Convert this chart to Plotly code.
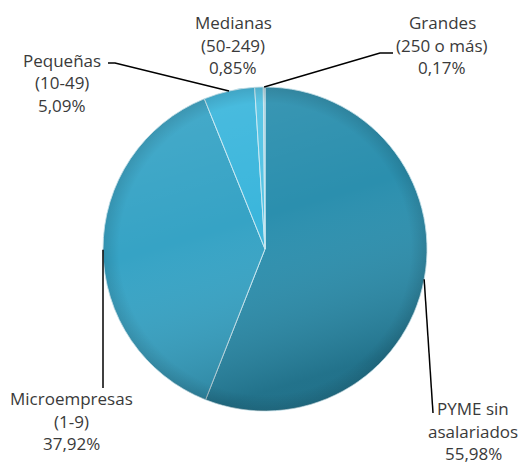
import math
import base64
import plotly.graph_objects as go

# ---- data ----
labels = ["PYME sin asalariados", "Microempresas (1-9)", "Pequeñas (10-49)", "Medianas (50-249)", "Grandes (250 o más)"]
label_lines = [["PYME sin", "asalariados"], ["Microempresas", "(1-9)"], ["Pequeñas", "(10-49)"],
               ["Medianas", "(50-249)"], ["Grandes", "(250 o más)"]]
values = [55.98, 37.92, 5.09, 0.85, 0.17]

# ---- style / layout ----
W, H = 520, 465
colors = ["#2b8fae", "#36a3c5", "#3bb6dc", "#52c3e4", "#9cbcc8"]
CX, CY, R = 265, 249, 162          # pie centre / radius in pixels
# label block centre (px) and leader line (points from label toward slice, px)
label_pos = [(473, 431), (71, 421), (62, 83), (233, 45), (442, 45)]
leader_start = [[(433, 413)], [(103, 388)], [(108, 63), (115, 63)], None, [(393, 53), (380, 53)]]
LINE_H = 22.5
FONT = "Open Sans"
FSIZE = 17
TXT = "#3a3a3a"


def px(x):
    return x / W


def py(y):
    return 1 - y / H


def fmt(v):
    return f"{v:.2f}".replace(".", ",") + "%"


fig = go.Figure(go.Pie(
    labels=labels, values=values, sort=False, direction="clockwise", rotation=0,
    marker=dict(colors=colors, line=dict(color="#c8e8f2", width=1)),
    textinfo="none", hoverinfo="label+percent", showlegend=False,
    domain=dict(x=[px(CX - R), px(CX + R)], y=[py(CY + R), py(CY - R)]),
))

annotations = []
shapes = []
total = sum(values)
cum = 0.0
for i, v in enumerate(values):
    mid = (cum + v / 2) / total * 2 * math.pi
    cum += v
    lines = label_lines[i] + [fmt(v)]
    lx, ly = label_pos[i]
    n = len(lines)
    for k, t in enumerate(lines):
        yk = ly + (k - (n - 1) / 2) * LINE_H
        annotations.append(dict(x=px(lx), y=py(yk), xref="paper", yref="paper", text=t,
                                showarrow=False, xanchor="center", yanchor="middle",
                                font=dict(family=FONT, size=FSIZE, color=TXT)))
    if leader_start[i]:
        ax = CX + R * math.sin(mid)
        ay = CY - R * math.cos(mid)
        pts = leader_start[i] + [(ax, ay)]
        path = "M " + " L ".join(f"{px(x)},{py(y)}" for x, y in pts)
        shapes.append(dict(type="path", path=path, xref="paper", yref="paper",
                           line=dict(color="black", width=1.5)))

# soft lighting overlay to mimic the bevelled 3-D look
svg = (
    '<svg xmlns="http://www.w3.org/2000/svg" viewBox="0 0 100 100">'
    '<defs>'
    '<linearGradient id="l" x1="0" y1="0" x2="0.3" y2="1">'
    '<stop offset="0" stop-color="#ffffff" stop-opacity="0.10"/>'
    '<stop offset="0.5" stop-color="#ffffff" stop-opacity="0"/>'
    '<stop offset="1" stop-color="#000000" stop-opacity="0.20"/>'
    '</linearGradient>'
    '<radialGradient id="r" cx="50" cy="50" r="50" gradientUnits="userSpaceOnUse">'
    '<stop offset="0.9" stop-color="#000000" stop-opacity="0"/>'
    '<stop offset="1" stop-color="#000000" stop-opacity="0.12"/>'
    '</radialGradient>'
    '</defs>'
    '<circle cx="50" cy="50" r="50" fill="url(#l)"/>'
    '<circle cx="50" cy="50" r="50" fill="url(#r)"/>'
    '</svg>'
)
src = "data:image/svg+xml;base64," + base64.b64encode(svg.encode()).decode()

fig.update_layout(
    width=W, height=H, margin=dict(l=0, r=0, t=0, b=0),
    paper_bgcolor="white", plot_bgcolor="white",
    annotations=annotations, shapes=shapes,
    images=[dict(source=src, xref="paper", yref="paper", x=px(CX - R), y=py(CY - R),
                 sizex=2 * R / W, sizey=2 * R / H, sizing="stretch", layer="above",
                 xanchor="left", yanchor="top")],
)
fig.write_html("out.html", config={"displayModeBar": False},
               post_script="document.body.style.margin='0';document.body.style.overflow='hidden';")
